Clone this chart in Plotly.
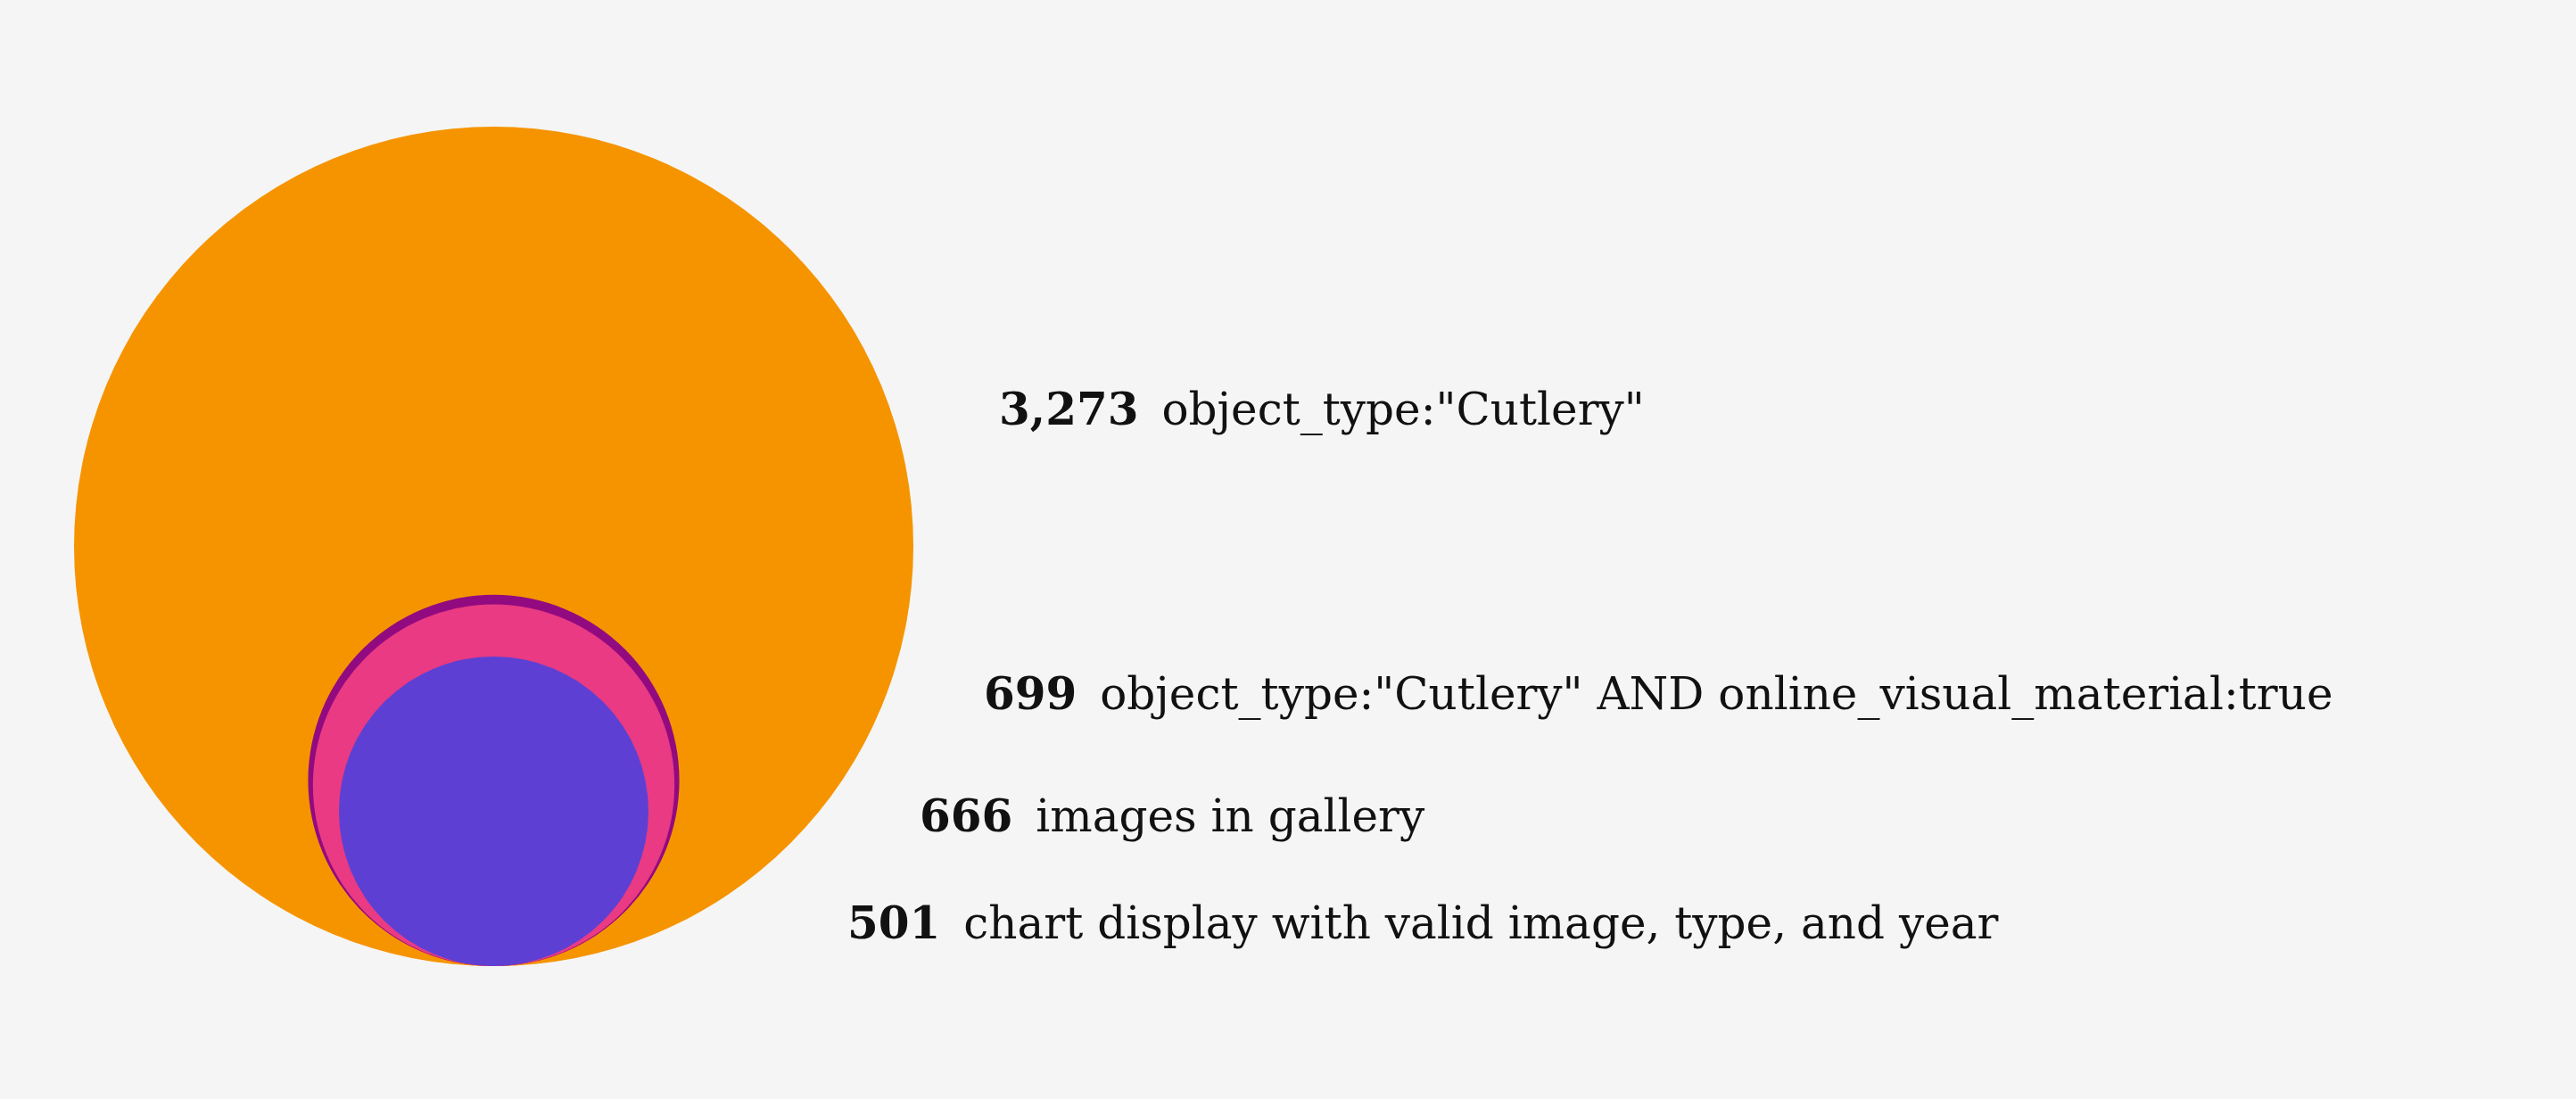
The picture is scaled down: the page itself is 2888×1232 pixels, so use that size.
import plotly.graph_objects as go
import math

# ---- data ----
labels = ['object_type:"Cutlery"',
          'object_type:"Cutlery" AND online_visual_material:true',
          'images in gallery',
          'chart display with valid image, type, and year']
counts = [3273, 699, 666, 501]
colors = ["#F69400", "#920A80", "#E93A83", "#5D40D3"]

# ---- layout constants (pixels) ----
W, H = 2888, 1232
CX, BOTTOM = 553.5, 1083
R_MIN, R_MAX = 173.5, 470.5
label_pos = [(1118, 458), (1101, 777), (1029, 914), (948, 1034)]
BG = "#F5F5F5"
FONT = "DejaVu Serif"

smin, smax = math.sqrt(min(counts)), math.sqrt(max(counts))


def radius(v):
    t = (math.sqrt(v) - smin) / (smax - smin)
    return R_MIN + t * (R_MAX - R_MIN)


fig = go.Figure()
shapes = []
for v, c in zip(counts, colors):
    r = radius(v)
    shapes.append(dict(type="circle", xref="x", yref="y",
                       x0=CX - r, x1=CX + r, y0=BOTTOM - 2 * r, y1=BOTTOM,
                       fillcolor=c, line=dict(width=0), layer="above"))

annotations = []
for (x, y), v, lab in zip(label_pos, counts, labels):
    annotations.append(dict(x=x, y=y, xref="x", yref="y", xanchor="left", yanchor="middle",
                            text=f"<b>{v:,}</b>\u00a0\u2009{lab}", showarrow=False,
                            font=dict(family=FONT, size=50, color="#111111")))

fig.add_trace(go.Scatter(x=[0, W], y=[0, H], mode="markers", marker=dict(opacity=0),
                         hoverinfo="skip", showlegend=False))
fig.update_layout(width=W, height=H, margin=dict(l=0, r=0, t=0, b=0),
                  paper_bgcolor=BG, plot_bgcolor=BG, shapes=shapes, annotations=annotations,
                  xaxis=dict(range=[0, W], visible=False, fixedrange=True),
                  yaxis=dict(range=[H, 0], visible=False, fixedrange=True),
                  showlegend=False)
fig.write_html("out.html", config={"displayModeBar": False})
